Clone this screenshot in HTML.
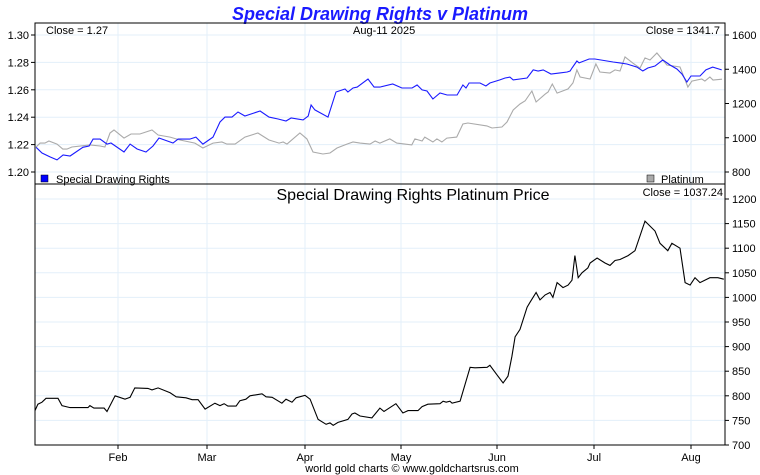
<!DOCTYPE html>
<html><head><meta charset="utf-8"><style>
body{margin:0;background:#fff;}
svg{display:block;font-family:"Liberation Sans",sans-serif;}
</style></head><body>
<svg id="c" width="760" height="475">
<text x="380" y="20" text-anchor="middle" font-size="18" font-weight="bold" font-style="italic" fill="#1a1aff">Special Drawing Rights v Platinum</text>
<g id="grid"></g>
<g id="marks"></g>
<rect x="35" y="23" width="690" height="422" fill="none" stroke="#000" stroke-width="1"/>
<line x1="35" y1="184" x2="725" y2="184" stroke="#000"/>
<text x="46" y="34" font-size="11">Close = 1.27</text>
<text x="353" y="34" font-size="11">Aug-11  2025</text>
<text x="720" y="34" font-size="11" text-anchor="end">Close = 1341.7</text>
<rect x="41" y="175" width="7" height="7" fill="#0000ff" stroke="#000" stroke-width="0.5"/>
<text x="56" y="183" font-size="11">Special Drawing Rights</text>
<rect x="647" y="175" width="7" height="7" fill="#aaa" stroke="#000" stroke-width="0.5"/>
<text x="661" y="183" font-size="11">Platinum</text>
<text x="413" y="200" font-size="16" text-anchor="middle">Special Drawing Rights Platinum Price</text>
<text x="723" y="196" font-size="11" text-anchor="end">Close = 1037.24</text>
<text x="412" y="472" font-size="11" text-anchor="middle">world gold charts © www.goldchartsrus.com</text>
</svg>
<script>
// month starts as day-of-year
const monthNames=["Feb","Mar","Apr","May","Jun","Jul","Aug"];
const monthDays=[0,31,59,90,120,151,181,212,243];
const sdrTicks=[1.20,1.22,1.24,1.26,1.28,1.30];
const ptTicks=[800,1000,1200,1400,1600];
const ratioTicks=[700,750,800,850,900,950,1000,1050,1100,1150,1200];

const sdrDays=[0.4,2.6,5.6,8.2,10.5,13.1,17.9,20.2,21.7,24.3,26.9,28.4,32.9,34.8,37,39.8,42,43.9,48.3,49.9,53.6,55.5,57.7,60.9,63.1,64.7,66.9,68.8,71,75.8,78.6,81.5,84,85.6,89.4,91,91.9,93.1,97.2,99.7,102.5,103.4,105,106.3,109.7,111.6,113.4,117.4,120.3,123.6,125.2,126.8,128.4,130.3,132.6,134.9,138.1,140,141,142,145.5,147.4,148.7,151.9,153.5,155,156,160.3,162.2,163.7,165.3,167.7,170.5,172.7,173.6,174.2,175.7,176.4,179.5,181.3,187.1,189.3,191.5,194.7,196.6,198.2,200.5,203,205.3,207.5,209.1,210.7,212,214.9,216.8,219,221.9];
const sdrValues=[1.218,1.2139,1.211,1.2088,1.2124,1.2117,1.218,1.219,1.224,1.224,1.2204,1.2212,1.2146,1.2204,1.2168,1.2146,1.219,1.2248,1.2212,1.224,1.224,1.2255,1.2204,1.2255,1.2365,1.2401,1.2401,1.2438,1.2409,1.2445,1.2401,1.2387,1.2372,1.2394,1.238,1.2409,1.2489,1.2453,1.2401,1.2584,1.2606,1.2584,1.2613,1.262,1.2679,1.262,1.262,1.2642,1.2613,1.2613,1.2635,1.2599,1.2591,1.2533,1.2577,1.2562,1.2562,1.2635,1.2613,1.265,1.265,1.2628,1.265,1.2672,1.2686,1.2693,1.2672,1.2686,1.2745,1.2737,1.2745,1.2715,1.2723,1.273,1.2737,1.2759,1.281,1.2796,1.2825,1.2825,1.2803,1.2796,1.2788,1.2766,1.2737,1.2759,1.2774,1.2818,1.2781,1.2752,1.2715,1.2657,1.2701,1.2701,1.2745,1.2766,1.2745];

const ptDays=[0.4,1.9,3.7,5.2,8.2,10.4,11.9,13.8,20.5,24.3,26.1,28,29.5,32.9,35.1,37.9,41.7,43.6,47.4,50.5,55.2,57.7,60.9,63.7,65.3,67.9,71,75.1,78.6,81.8,83.1,84.3,88.4,90.6,92.5,95.6,97.8,100,103.1,105,107.2,110.3,111.9,113.4,116.5,118.7,123.5,124.5,126.8,127.7,130.3,131.6,133.2,134.8,138,140,141.6,147.7,149.4,152.5,154.1,156,158.1,159.7,161.8,163.1,165.9,166.8,168.1,169.6,173,174.5,175.7,176.7,179.8,181.6,182.9,186.1,187.7,189.3,190.9,193.4,195.7,197.3,198.9,201.1,204.3,208.5,211,212.3,215.5,216.5,218.1,219.1,222];
const ptValues=[946,969,969,981,963,934,934,946,958,952,946,1028,1045,998,1022,1022,1045,1016,1004,987,969,940,969,975,963,963,1004,1028,987,969,975,963,1028,993,917,905,911,940,963,975,969,963,981,969,993,969,958,993,981,1004,975,993,975,998,1004,1080,1086,1069,1057,1063,1092,1162,1197,1215,1273,1209,1255,1267,1314,1261,1285,1320,1396,1355,1343,1431,1384,1378,1396,1390,1472,1436,1407,1466,1454,1495,1425,1413,1296,1331,1343,1331,1355,1337,1342];

const ratioDays=[0,1.1,2.6,4.1,8.6,10.1,13.1,19.8,20.5,22,25.8,26.9,29.9,33.2,34.8,36.3,40.4,41.7,43.6,47.4,49.3,52.4,54.3,56.2,58.4,61.5,63.1,64.4,65.6,68.2,69.4,71.3,72.6,76.4,77.7,79.6,82.7,84,85.9,87.2,90,91.6,94.1,96.6,97.8,98.8,100.3,103.4,104.7,105.6,107.2,110.9,113.4,114.7,118.4,120.6,122.3,125.5,126.8,128.7,132.6,133.6,134.6,135.8,136.5,139.1,142.3,143.9,147.8,148.7,150.7,152.9,154.4,155.6,156.6,158.1,160.3,161.2,163.1,164.3,165.9,167.4,168.3,169.6,171.4,173,174.2,175.1,176.1,177.3,179.1,179.8,182,184.5,186.1,187.7,189.3,191.9,194.1,197.3,200.5,202.1,204.6,205.9,208.5,210.1,211.7,213.3,214.9,218.1,220.7,222.6];
const ratioValues=[770,783,787,795,795,780,776,776,780,775,775,768,800,793,797,816,815,812,816,806,798,796,792,792,773,785,780,784,779,779,790,793,800,804,798,797,785,793,787,796,801,793,752,742,745,740,746,752,763,765,759,755,775,768,784,765,770,770,778,783,784,789,787,789,785,789,858,857,858,862,845,826,840,880,920,935,980,990,1010,995,1005,1010,1000,1030,1020,1025,1035,1085,1040,1050,1060,1070,1080,1070,1065,1075,1077,1085,1095,1155,1135,1110,1095,1110,1100,1030,1025,1040,1030,1040,1040,1037];

const NS="http://www.w3.org/2000/svg";
const monthX=[35,118,207,305,401,497,594,691,787];
function xScale(d){
  for(let i=0;i<monthDays.length-1;i++){
    if(d<=monthDays[i+1]||i===monthDays.length-2){
      return monthX[i]+(d-monthDays[i])/(monthDays[i+1]-monthDays[i])*(monthX[i+1]-monthX[i]);
    }
  }
}
const ySdr=v=>35+(1.30-v)/0.10*137;
const yPt=v=>35+(1600-v)/800*137;
const yRatio=v=>199+(1200-v)/500*246;
const grid=document.getElementById('grid'), marks=document.getElementById('marks'), svg=document.getElementById('c');
function mk(tag,attrs,parent){const e=document.createElementNS(NS,tag);for(const k in attrs)e.setAttribute(k,attrs[k]);parent.appendChild(e);return e;}

monthNames.forEach((m,i)=>{
  const x=xScale(monthDays[i+1]);
  const g=mk('line',{x1:x,y1:23,x2:x,y2:445,stroke:'#e3effa'},grid);
  
  
  const tk=mk('line',{x1:x,y1:445,x2:x,y2:449,stroke:'#000'},svg);
  
  
  const t=mk('text',{x:x,y:461,'font-size':11,'text-anchor':'middle'},svg);
  t.textContent=m;
  
  
});
sdrTicks.forEach(v=>{
  const y=ySdr(v);
  const g=mk('line',{x1:35,y1:y,x2:725,y2:y,stroke:'#e3effa'},grid);
  
  
  mk('line',{x1:31,y1:y,x2:35,y2:y,stroke:'#000'},svg);
  const t=mk('text',{x:29,y:y+4,'font-size':11,'text-anchor':'end'},svg);
  t.textContent=v.toFixed(2);
  
  
});
ptTicks.forEach(v=>{
  const y=yPt(v);
  mk('line',{x1:725,y1:y,x2:729,y2:y,stroke:'#000'},svg);
  const t=mk('text',{x:732,y:y+4,'font-size':11},svg);
  t.textContent=v;
  
  
});
ratioTicks.forEach(v=>{
  const y=yRatio(v);
  const g=mk('line',{x1:35,y1:y,x2:725,y2:y,stroke:'#e3effa'},grid);
  
  
  mk('line',{x1:725,y1:y,x2:729,y2:y,stroke:'#000'},svg);
  const t=mk('text',{x:732,y:y+4,'font-size':11},svg);
  t.textContent=v;
  
  
});
function line(days,vals,ys,color,name){
  const d=days.map((dd,i)=>(i?'L':'M')+xScale(dd).toFixed(1)+','+ys(vals[i]).toFixed(1)).join('');
  const p=mk('path',{d:d,fill:'none',stroke:color,'stroke-width':1.1},marks);
  
  
}
line(ptDays,ptValues,yPt,'#aaaaaa','platinum-line');
line(sdrDays,sdrValues,ySdr,'#1a1aff','sdr-line');
line(ratioDays,ratioValues,yRatio,'#000','sdr-platinum-price-line');
</script>
</body></html>
